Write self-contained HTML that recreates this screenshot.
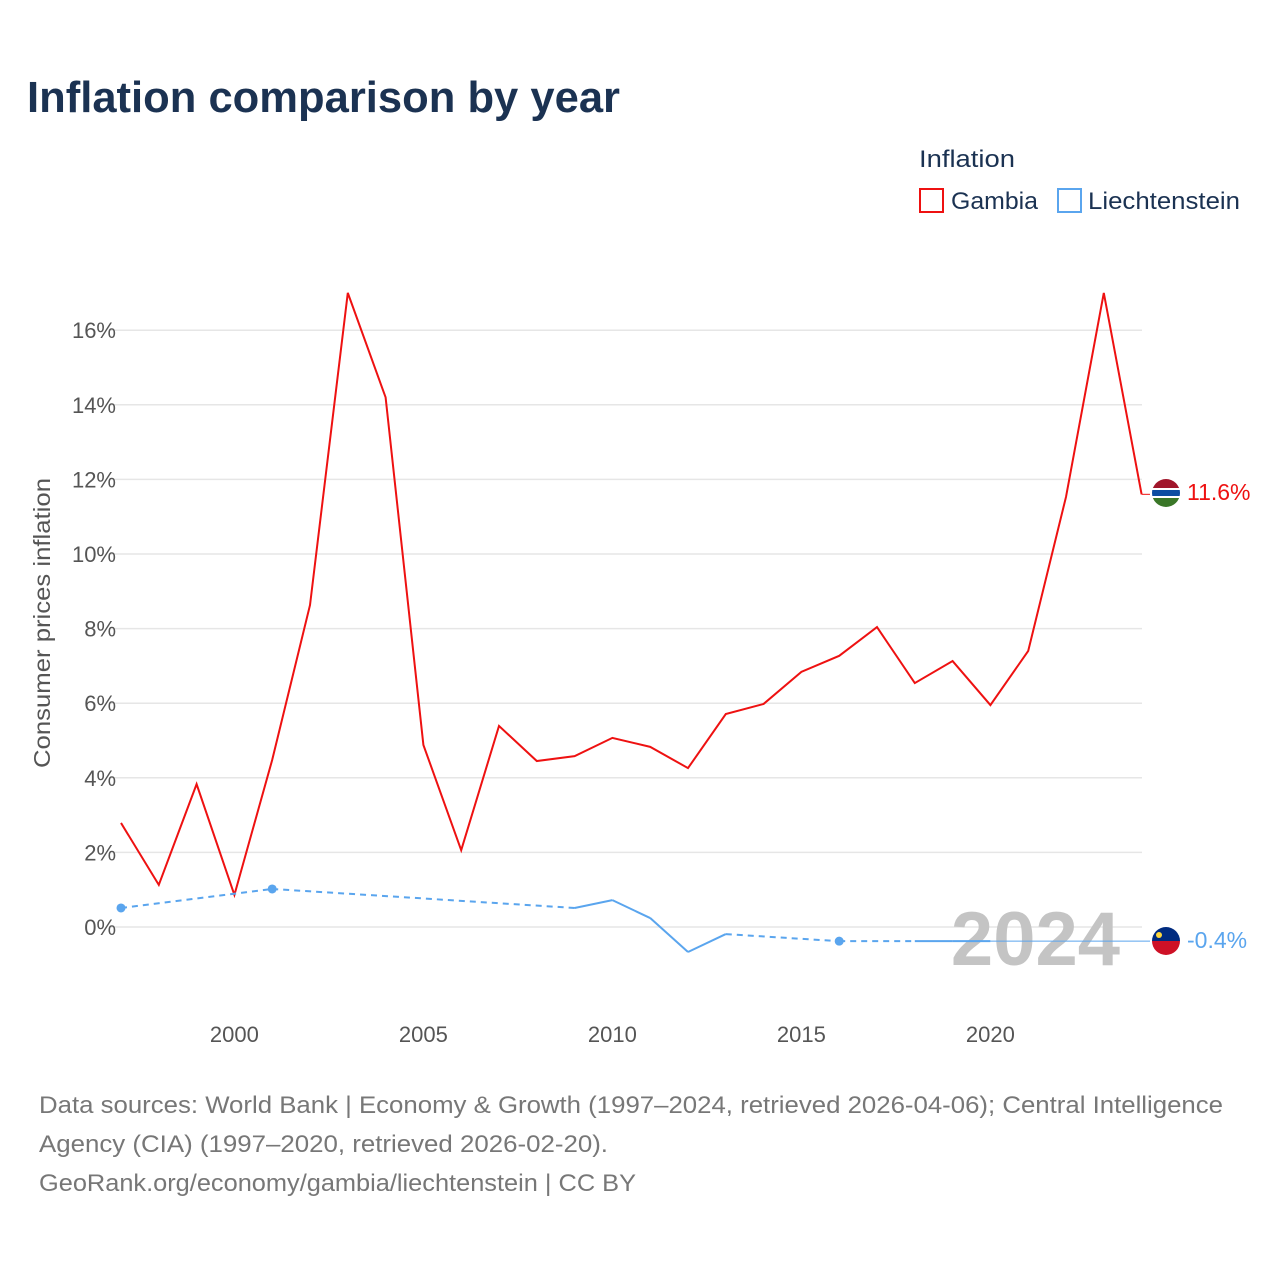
<!DOCTYPE html>
<html><head><meta charset="utf-8">
<style>
body{margin:0;background:#fff;font-family:"Liberation Sans",sans-serif;}
svg text{font-family:"Liberation Sans",sans-serif;}
</style></head>
<body>
<svg width="1280" height="1280" viewBox="0 0 1280 1280">
<text x="27" y="112" font-size="44" font-weight="bold" fill="#1b3252" textLength="593" lengthAdjust="spacingAndGlyphs">Inflation comparison by year</text>
<g>
<text x="919" y="167" font-size="24" fill="#1b3252" textLength="96" lengthAdjust="spacingAndGlyphs">Inflation</text>
<g><rect x="920" y="189" width="23" height="23" fill="none" stroke="#ee1111" stroke-width="2"/><text x="951" y="209" font-size="24" fill="#1b3252" textLength="87" lengthAdjust="spacingAndGlyphs">Gambia</text></g>
<g><rect x="1058" y="189" width="23" height="23" fill="none" stroke="#5aa5ee" stroke-width="2"/><text x="1088" y="209" font-size="24" fill="#1b3252" textLength="152" lengthAdjust="spacingAndGlyphs">Liechtenstein</text></g>
</g>
<g id="grid"></g>
<g id="yticks"></g>
<g id="xticks"></g>
<text transform="translate(50,623) rotate(-90)" text-anchor="middle" font-size="23" fill="#555" textLength="290" lengthAdjust="spacingAndGlyphs">Consumer prices inflation</text>
<text x="1120" y="965" text-anchor="end" font-size="76" font-weight="bold" fill="#c4c4c4">2024</text>
<g id="series"></g>
<g>
<clipPath id="cg"><circle cx="1166" cy="493" r="14"/></clipPath>
<g clip-path="url(#cg)"><rect x="1150" y="478" width="32" height="10" fill="#a1162b"/><rect x="1150" y="488" width="32" height="10" fill="#fff"/><rect x="1150" y="490" width="32" height="6" fill="#0c4da2"/><rect x="1150" y="498" width="32" height="12" fill="#3a7728"/></g>
</g>
<g>
<clipPath id="cl"><circle cx="1166" cy="941" r="14"/></clipPath>
<g clip-path="url(#cl)"><rect x="1150" y="926" width="32" height="15" fill="#002b7f"/><rect x="1150" y="941" width="32" height="16" fill="#ce1126"/><circle cx="1159" cy="935" r="3" fill="#ffd83d"/></g>
</g>
<text x="1187" y="500" font-size="23" fill="#ee1111">11.6%</text>
<text x="1187" y="948" font-size="23" fill="#5aa5ee">-0.4%</text>
<g font-size="24" fill="#777">
<text x="39" y="1113" textLength="1184" lengthAdjust="spacingAndGlyphs">Data sources: World Bank | Economy &amp; Growth (1997–2024, retrieved 2026-04-06); Central Intelligence</text>
<text x="39" y="1152" textLength="569" lengthAdjust="spacingAndGlyphs">Agency (CIA) (1997–2020, retrieved 2026-02-20).</text>
<text x="39" y="1191" textLength="597" lengthAdjust="spacingAndGlyphs">GeoRank.org/economy/gambia/liechtenstein | CC BY</text>
</g>
</svg>
<script>
const years=[1997,1998,1999,2000,2001,2002,2003,2004,2005,2006,2007,2008,2009,2010,2011,2012,2013,2014,2015,2016,2017,2018,2019,2020,2021,2022,2023,2024];
const gambia=[2.79,1.13,3.83,0.86,4.48,8.63,17.0,14.2,4.88,2.06,5.39,4.45,4.58,5.07,4.83,4.26,5.71,5.98,6.84,7.27,8.04,6.54,7.13,5.95,7.40,11.53,17.0,11.6];
const liechtenstein=[0.51,null,null,null,1.02,null,null,null,null,null,null,null,0.51,0.72,0.24,-0.67,-0.19,null,null,-0.38,null,-0.38,-0.38,-0.38,null,null,null,null];
const yTicks=[0,2,4,6,8,10,12,14,16];
const xTicks=[2000,2005,2010,2015,2020];
const NS="http://www.w3.org/2000/svg";
const X=y=>121+(y-1997)*37.8;
const Y=v=>927-v*37.3;
function mk(t,a,p){const e=document.createElementNS(NS,t);for(const k in a)e.setAttribute(k,a[k]);p.appendChild(e);return e;}
const grid=document.getElementById('grid'),yt=document.getElementById('yticks'),xt=document.getElementById('xticks'),ser=document.getElementById('series');
yTicks.forEach(v=>{
 const l=mk('line',{x1:110,x2:1142,y1:Y(v),y2:Y(v),stroke:'#e6e6e6','stroke-width':1.5},grid);
 
 
 const t=mk('text',{x:116,y:Y(v)+8,'text-anchor':'end','font-size':22,fill:'#555'},yt);
 t.textContent=v+'%';
 
 
});
xTicks.forEach(v=>{
 const t=mk('text',{x:X(v),y:1042,'text-anchor':'middle','font-size':22,fill:'#555'},xt);
 t.textContent=v;
 
 
});
let d='';gambia.forEach((v,i)=>{d+=(i?'L':'M')+X(years[i])+','+Y(v);});
const gl=mk('path',{d:d,fill:'none',stroke:'#ee1111','stroke-width':2},ser);


mk('line',{x1:X(2024),x2:1150,y1:Y(gambia[27]),y2:Y(gambia[27]),stroke:'#ee1111','stroke-width':1},ser);
const pts=[];liechtenstein.forEach((v,i)=>{if(v!==null)pts.push([i,v]);});
for(let k=1;k<pts.length;k++){
 const [i0,v0]=pts[k-1],[i1,v1]=pts[k];
 const s=mk('line',{x1:X(years[i0]),y1:Y(v0),x2:X(years[i1]),y2:Y(v1),stroke:'#5aa5ee','stroke-width':2},ser);
 if(i1-i0>1)s.setAttribute('stroke-dasharray','6,5');
 
 
}
pts.forEach(([i,v])=>{
 const prev=liechtenstein[i-1],next=liechtenstein[i+1];
 if((prev===null||prev===undefined)&&(next===null||next===undefined)){
  const c=mk('circle',{cx:X(years[i]),cy:Y(v),r:4.5,fill:'#5aa5ee'},ser);
  
  
 }
});
const last=pts[pts.length-1];
mk('line',{x1:X(years[last[0]]),x2:1150,y1:Y(last[1]),y2:Y(last[1]),stroke:'#5aa5ee','stroke-width':1},ser);
</script>
</body></html>
